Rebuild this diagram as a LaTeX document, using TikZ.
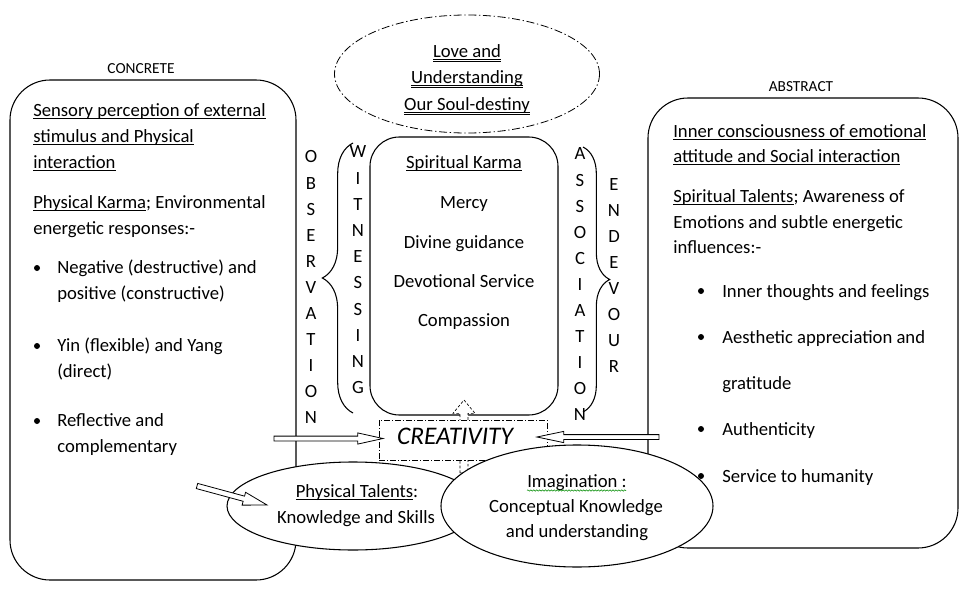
\documentclass[tikz,border=0pt]{standalone}
\usepackage{fontspec}
\setmainfont{Carlito}
\usetikzlibrary{shapes.geometric, arrows.meta, positioning, calc, decorations.pathreplacing, decorations.pathmorphing}
\newcommand{\body}{\fontsize{14}{17}\selectfont}
\newcommand{\ul}[1]{\underline{\raisebox{0pt}[\height][0pt]{#1}}}
\newcommand{\dul}[1]{\underline{\underline{\raisebox{0pt}[\height][0pt]{#1}}}}
% block arrow: [style]{from}{to}{shaft half width}{head half width}{head length}
\newcommand{\blockarrow}[6][]{%
  \coordinate (ba-h) at ($(#3)!#6!(#2)$);
  \draw[#1] ($(#2)!#4!90:(#3)$) -- ($(ba-h)!#4!90:(#3)$) -- ($(ba-h)!#5!90:(#3)$)
    -- (#3) -- ($(ba-h)!#5!-90:(#3)$) -- ($(ba-h)!#4!-90:(#3)$) -- ($(#2)!#4!-90:(#3)$) -- cycle;}
\tikzset{
  panel/.style={rectangle, draw, line width=0.8pt, rounded corners=30pt, inner sep=0pt},
  corebox/.style={rectangle, draw, line width=0.8pt, rounded corners=22pt, inner sep=0pt},
  bubble/.style={ellipse, draw, fill=white, line width=0.8pt, inner sep=0pt},
  dashdot/.style={dash pattern=on 6pt off 2pt on 1pt off 2pt},
  cbox/.style={rectangle, draw, fill=white, line width=0.5pt, inner sep=0pt,
    dash pattern=on 4.5pt off 1.5pt on 0.8pt off 1.5pt},
  txt/.style={font=\body, anchor=base west, inner sep=0pt},
  ctxt/.style={font=\body, anchor=base, inner sep=0pt},
  letter/.style={font=\body, inner sep=0pt},
  caption/.style={font=\fontsize{11.5}{13}\selectfont, anchor=base, inner sep=0pt},
  bullet/.style={circle, fill, inner sep=0pt, minimum size=4.5pt},
  hollow/.style={draw, fill=white, line width=0.6pt},
  dashhollow/.style={draw, fill=white, line width=0.5pt, dash pattern=on 2pt off 1.5pt},
  braceline/.style={decorate, line width=0.8pt, decoration={brace, amplitude=#1}}
}
\begin{document}
\begin{tikzpicture}[x=0.75pt, y=-0.75pt]
  \useasboundingbox (0,0) rectangle (968,589);

  % Panels
  \node[panel, minimum width=214.5pt, minimum height=375pt] (concbox) at (153,330) {};
  \node[caption] (conclbl) at (141,73) {CONCRETE};
  \node[panel, minimum width=232.5pt, minimum height=337.5pt] (abstbox) at (803,323) {};
  \node[caption] (abstlbl) at (801,91) {ABSTRACT};

  % Centre
  \node[corebox, minimum width=141pt, minimum height=208.5pt] (karma) at (464,276) {};
  \node[bubble, dashdot, line width=0.6pt, minimum width=198.75pt, minimum height=88.5pt] (love) at (467,74) {};
  \node[ctxt] (love1) at (467,57) {\dul{Love and}};
  \node[ctxt] (love2) at (467,83) {\dul{Understanding}};
  \node[ctxt] (love3) at (467,110) {\dul{Our Soul-destiny}};

  \node[ctxt] (sk) at (464,168) {\ul{Spiritual Karma}};
  \node[ctxt] (mercy) at (464,208) {Mercy};
  \node[ctxt] (divine) at (464,248) {Divine guidance};
  \node[ctxt] (devot) at (464,287) {Devotional Service};
  \node[ctxt] (compas) at (464,326) {Compassion};

  % Braces and vertical words
  \draw[braceline=23pt] (353,413) -- (353,143);
  \draw[braceline=20pt] (583,147) -- (583,412);
  \foreach \c [count=\i from 0] in {O,B,S,E,R,V,A,T,I,O,N}
    \node[letter] (obs\i) at (311,157+26.1*\i) {\c};
  \foreach \c [count=\i from 0] in {W,I,T,N,E,S,S,I,N,G}
    \node[letter] (wit\i) at (358,152+26.2*\i) {\c};
  \foreach \c [count=\i from 0] in {A,S,S,O,C,I,A,T,I,O,N}
    \node[letter] (ass\i) at (580,154+26.1*\i) {\c};
  \foreach \c [count=\i from 0] in {E,N,D,E,V,O,U,R}
    \node[letter] (end\i) at (614,185+26*\i) {\c};

  % Creativity
  \coordinate (cfoot) at (464,473);
  \coordinate (ctip) at (464,400);
  \blockarrow[dashhollow]{cfoot}{ctip}{3pt}{8.25pt}{10pt}
  \node[cbox, minimum width=126pt, minimum height=30pt] (creat) at (463,440) {};
  \node[font=\fontsize{19}{22}\selectfont\itshape, anchor=base, inner sep=0pt] (creatxt) at (455,444) {CREATIVITY};

  \coordinate (obsin) at (274,438.5);
  \coordinate (obstip) at (383,438.5);
  \blockarrow[hollow]{obsin}{obstip}{1.8pt}{4.2pt}{19pt}
  \coordinate (assin) at (659,437);
  \coordinate (asstip) at (537,437);
  \blockarrow[hollow]{assin}{asstip}{1.8pt}{4.2pt}{20pt}

  % Talents
  \node[bubble, minimum width=189pt, minimum height=66pt] (phys) at (353,506) {};
  \node[bubble, minimum width=204pt, minimum height=91.5pt] (imag) at (577,506) {};
  \node[ctxt] (phys1) at (357,497) {\ul{Physical Talents}:};
  \node[ctxt] (phys2) at (356,523) {Knowledge and Skills};
  \node[ctxt] (imag1) at (577,487) {Imagination :};
  \draw[green!55!black, line width=0.4pt, decorate, decoration={snake, amplitude=0.5pt, segment length=2.2pt}]
    (imag1.base west) ++(0,3.5) -- ++(99,0);
  \node[ctxt] (imag2) at (576,512) {Conceptual Knowledge};
  \node[ctxt] (imag3) at (577,537) {and understanding};

  \coordinate (concout) at (197,486);
  \coordinate (physin) at (267,505);
  \blockarrow[hollow]{concout}{physin}{2pt}{5pt}{18pt}

  % Concrete text
  \node[txt] (c1) at (33,116) {\ul{Sensory perception of external}};
  \node[txt] (c2) at (33,142) {\ul{stimulus and Physical}};
  \node[txt] (c3) at (33,168) {\ul{interaction}};
  \node[txt] (c4) at (33,208) {\ul{Physical Karma}; Environmental};
  \node[txt] (c5) at (33,234) {energetic responses:-};
  \node[bullet] (cb1) at (37,268) {};
  \node[txt] (c6) at (57,273) {Negative (destructive) and};
  \node[txt] (c7) at (57,299) {positive (constructive)};
  \node[bullet] (cb2) at (37,346) {};
  \node[txt] (c8) at (57,351) {Yin (flexible) and Yang};
  \node[txt] (c9) at (57,377) {(direct)};
  \node[bullet] (cb3) at (37,421) {};
  \node[txt] (c10) at (57,426) {Reflective and};
  \node[txt] (c11) at (57,452) {complementary};

  % Abstract text
  \node[txt] (a1) at (673,137) {\ul{Inner consciousness of emotional}};
  \node[txt] (a2) at (673,162) {\ul{attitude and Social interaction}};
  \node[txt] (a3) at (673,202) {\ul{Spiritual Talents}; Awareness of};
  \node[txt] (a4) at (673,228) {Emotions and subtle energetic};
  \node[txt] (a5) at (673,253) {influences:-};
  \node[bullet] (ab1) at (701,291) {};
  \node[txt] (a6) at (722,297) {Inner thoughts and feelings};
  \node[bullet] (ab2) at (701,337) {};
  \node[txt] (a7) at (722,343) {Aesthetic appreciation and};
  \node[txt] (a8) at (722,389) {gratitude};
  \node[bullet] (ab3) at (701,429) {};
  \node[txt] (a9) at (722,435) {Authenticity};
  \node[bullet] (ab4) at (701,476) {};
  \node[txt] (a10) at (722,482) {Service to humanity};
\end{tikzpicture}
\end{document}
